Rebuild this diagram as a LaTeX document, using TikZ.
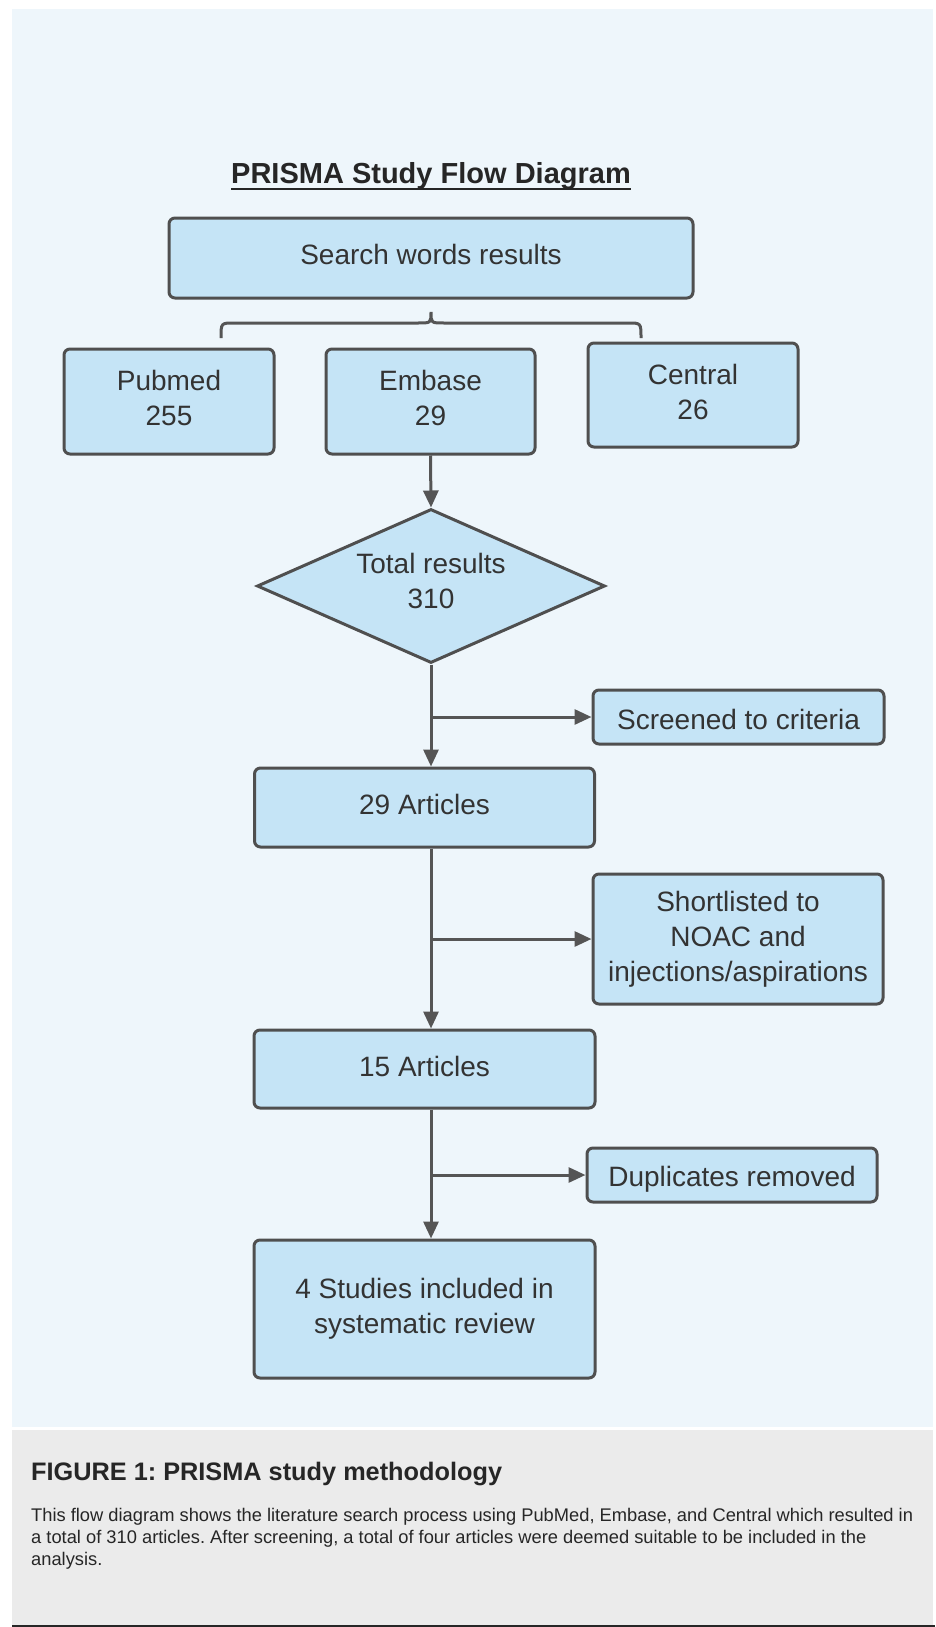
\documentclass[tikz,border=0pt]{standalone}
\usepackage{fontspec}
\setmainfont{Liberation Sans}
\usetikzlibrary{arrows.meta,shapes.geometric}
\frenchspacing
\definecolor{panel}{HTML}{EEF6FB}
\definecolor{capbg}{HTML}{EBEBEB}
\definecolor{boxfill}{HTML}{C5E4F6}
\definecolor{boxline}{HTML}{4F4F4F}
\definecolor{linec}{HTML}{555555}
\definecolor{txt}{HTML}{333333}
\definecolor{captxt}{HTML}{262626}
% raise text inside a box by half the given depth
\newcommand\txtup[1]{\rule[-#1]{0pt}{#1}}
% lower text inside a box by adding height
\newcommand\txtdown[1]{\rule{0pt}{#1}}
\tikzset{
  box/.style={draw=boxline, fill=boxfill, line width=3pt, rounded corners=6pt,
    inner sep=0pt, align=center, text=txt,
    font=\fontsize{28}{35}\selectfont},
  dia/.style={diamond, draw=boxline, fill=boxfill, line width=3pt, inner sep=0pt,
    aspect=2.26, align=center, text=txt, font=\fontsize{28}{35}\selectfont},
  arr/.style={draw=linec, line width=3pt, -{Triangle[length=17pt,width=15pt]}},
  brace/.style={draw=linec, line width=3pt},
}
\begin{document}
\begin{tikzpicture}[x=1pt,y=-1pt]
\useasboundingbox (0,0) rectangle (935,1627);
\fill[white] (0,0) rectangle (935,1627);
\fill[panel] (12,9) rectangle (933,1427);
\fill[capbg] (12,1430) rectangle (933,1625);
\fill[black!85] (12,1625) rectangle (935,1627);

% title
\node[font=\fontsize{29}{34}\selectfont\bfseries, text=captxt, inner sep=0pt, anchor=base]
  (title) at (431,183) {PRISMA Study Flow Diagram};
\draw[line width=2.5pt, captxt] ([yshift=-6pt]title.base west) -- ([yshift=-6pt]title.base east);

% nodes
\node[box, minimum width=524pt, minimum height=80pt] (search) at (431,258) {Search words results\txtup{8pt}};
\node[box, minimum width=210pt, minimum height=105pt] (pub) at (169,401.5) {Pubmed\\255\txtup{8pt}};
\node[box, minimum width=209pt, minimum height=105pt] (emb) at (430.5,401.5) {Embase\\29\txtup{8pt}};
\node[box, minimum width=210pt, minimum height=104pt] (cen) at (693,395) {Central\\26\txtup{6pt}};
\node[dia, minimum width=348pt, minimum height=154pt] (tot) at (431,586) {Total results\\310\txtup{10pt}};
\node[box, minimum width=291pt, minimum height=54pt] (scr) at (738.5,717) {\txtdown{24.5pt}Screened to criteria};
\node[box, minimum width=340pt, minimum height=79pt] (a29) at (424.5,807.5) {29 Articles\txtup{6pt}};
\node[box, minimum width=290pt, minimum height=130pt] (sho) at (738,939) {Shortlisted to\\NOAC and\\injections/aspirations};
\node[box, minimum width=341pt, minimum height=78pt] (a15) at (424.5,1069) {15 Articles\txtup{6pt}};
\node[box, minimum width=290pt, minimum height=54pt] (dup) at (732,1175) {\txtdown{28pt}Duplicates removed};
\node[box, minimum width=341pt, minimum height=138pt] (stu) at (424.5,1309) {4 Studies included in\\systematic review};

% brace under search box
\coordinate (bl) at (221,338);
\coordinate (br) at (641,338);
\coordinate (bt) at (431,312);
\draw[brace] (bl) .. controls (221,323) .. (234,323) -- (418,323)
  .. controls (431,323) .. (bt) .. controls (431,323) .. (444,323) -- (628,323)
  .. controls (641,323) .. (br);

% spine
\coordinate (sp) at (431,0);
\draw[arr] (emb.south) -- (tot.north);
\draw[arr] (tot.south) -- (sp |- a29.north);
\draw[arr] (tot.south |- scr.west) -- (scr.west);
\draw[arr] (sp |- a29.south) -- (sp |- a15.north);
\draw[arr] (sp |- sho.west) -- (sho.west);
\draw[arr] (sp |- a15.south) -- (sp |- stu.north);
\draw[arr] (sp |- dup.west) -- (dup.west);

% caption
\node[font=\fontsize{25.3}{30}\selectfont\bfseries, text=captxt, inner sep=0pt, anchor=base west]
  (cap) at (31,1480) {FIGURE 1: PRISMA study methodology};
\node[font=\fontsize{18.3}{22}\selectfont, text=captxt, inner sep=0pt, anchor=base west]
  (c1) at (31,1521) {This flow diagram shows the literature search process using PubMed, Embase, and Central which resulted in};
\node[font=\fontsize{18.3}{22}\selectfont, text=captxt, inner sep=0pt, anchor=base west]
  (c2) at (31,1543) {a total of 310 articles. After screening, a total of four articles were deemed suitable to be included in the};
\node[font=\fontsize{18.3}{22}\selectfont, text=captxt, inner sep=0pt, anchor=base west]
  (c3) at (31,1565) {analysis.};
\end{tikzpicture}
\end{document}
